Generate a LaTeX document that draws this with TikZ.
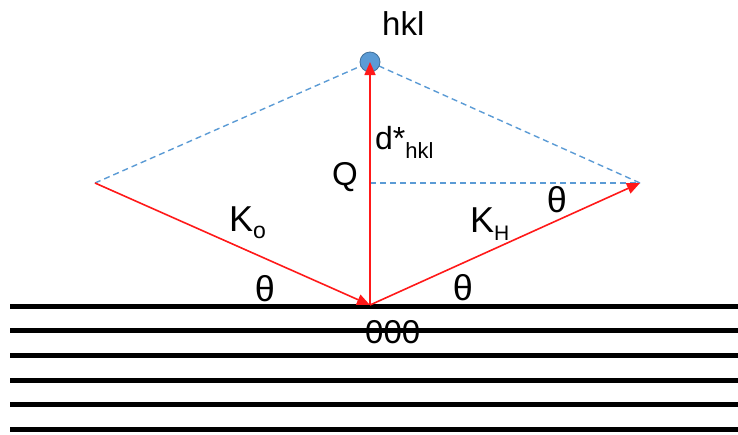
\documentclass[tikz,border=0pt]{standalone}
\usepackage{fontspec}
\setmainfont{Liberation Sans}
\usetikzlibrary{arrows.meta}
\definecolor{vecred}{RGB}{255,25,25}
\definecolor{guideblue}{RGB}{91,155,213}
\definecolor{dotedge}{RGB}{65,113,156}

\begin{document}
\begin{tikzpicture}[
  x=1pt, y=-1pt,
  wavevec/.style={draw=vecred, line width=1.6pt, -{Triangle[length=13pt,width=11pt]}},
  guide/.style={draw=guideblue, line width=1.4pt, dash pattern=on 6pt off 4pt},
  plane/.style={draw=black, line width=5pt},
  latticept/.style={circle, draw=dotedge, fill=guideblue, line width=0.8pt, minimum size=20pt, inner sep=0pt},
  lbl/.style={inner sep=0pt, anchor=base west},
  anglbl/.style={inner sep=0pt, font=\fontsize{36}{40}\selectfont}
]
\useasboundingbox (0,0) rectangle (738,434);
% lattice planes
\foreach \yy in {306,330,355,380,404,429}
  \draw[plane] (10,\yy) -- (738,\yy);

\coordinate (origin) at (370,305);
\coordinate (hklpt) at (370,62);
\coordinate (kin) at (95,183);
\coordinate (kout) at (640,183);
\coordinate (foot) at (370,183);

% construction lines
\draw[guide] (kin) -- (hklpt) -- (kout);
\draw[guide] (foot) -- (kout);

\node[latticept] (hkl) at (hklpt) {};

% wave vectors
\draw[wavevec] (kin) -- (origin);
\draw[wavevec] (origin) -- (kout);
\draw[wavevec] (origin) -- (hklpt);

% labels
\node[lbl, font=\fontsize{33}{38}\selectfont] (hkllbl) at (382,35) {hkl};
\node[lbl] (dstar) at (375,149) {\fontsize{32}{36}\selectfont d*\fontsize{22}{26}\selectfont\raisebox{-9pt}{hkl}};
\node[lbl, font=\fontsize{33}{38}\selectfont] (qlbl) at (332,185) {Q};
\node[lbl] (kolbl) at (229,231) {\fontsize{36}{40}\selectfont K\fontsize{23}{28}\selectfont\raisebox{-7pt}{o}};
\node[lbl] (khlbl) at (470,232) {\fontsize{36}{40}\selectfont K\fontsize{21}{25}\selectfont\raisebox{-8pt}{H}};
\node[anglbl] (thin) at (265,289) {θ};
\node[anglbl] (thout) at (463,288) {θ};
\node[anglbl] (thq) at (557,200) {θ};
\node[lbl, font=\fontsize{33}{38}\selectfont] (zero) at (365,343) {000};
\end{tikzpicture}
\end{document}
